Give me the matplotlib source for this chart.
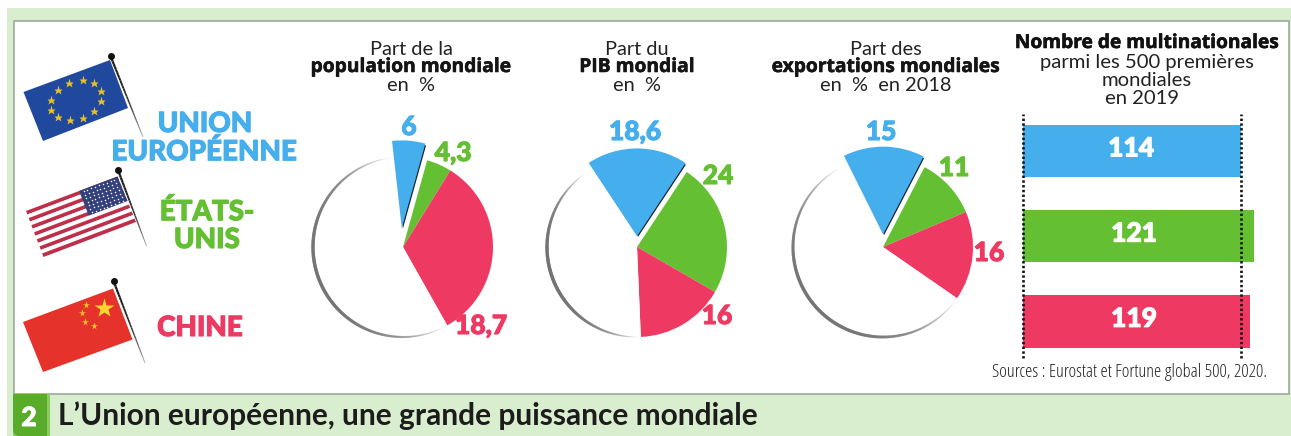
import numpy as np
import matplotlib
matplotlib.use("Agg")
import matplotlib.pyplot as plt
import matplotlib.patheffects as pe
from matplotlib.patches import Polygon, Rectangle, FancyBboxPatch, Wedge
from matplotlib.collections import LineCollection

W, H = 1291, 436
plt.rcParams["font.family"] = ["Lato", "DejaVu Sans"]

BLUE, GREEN, RED = "#45AEEC", "#64C032", "#EE3A62"
PALE = "#D9EDCF"

# Data
population_labels = ["6", "4,3", "18,7"]
population_drawn = [6.1, 4.5, 33.0, 56.4]
pib_labels = ["18,6", "24", "16"]
pib_drawn = [18.6, 24, 16, 41.4]
export_labels = ["15", "11", "16"]
export_drawn = [15, 11, 16, 58]
bar_names = ["Union européenne", "États-Unis", "Chine"]
bar_values = [114, 121, 119]


def heavy(color, w=0.7):
    return [pe.withStroke(linewidth=w, foreground=color)]


fig = plt.figure(figsize=(W / 100, H / 100), dpi=100, facecolor="white")
ax = fig.add_axes([0, 0, 1, 1], zorder=0)
ax.set_xlim(0, W)
ax.set_ylim(H, 0)
ax.axis("off")

# Frame
ax.add_patch(Rectangle((7, 8), 1284, 428, fc=PALE, ec="none"))
ax.add_patch(Rectangle((14, 21.5), 1275, 372, fc="white", ec="#9FA8A0", lw=1.2))
ax.add_patch(Rectangle((13, 394), 37, 42, fc="#8CCB5E", ec="none"))
ax.add_patch(Rectangle((13, 394), 34, 32, fc="#59AB2A", ec="none"))
ax.add_patch(FancyBboxPatch((13, 400), 34, 36, boxstyle="round,pad=0,rounding_size=7", fc="#59AB2A", ec="none"))
ax.add_patch(Rectangle((30, 410), 17, 26, fc="#59AB2A", ec="none"))
ax.text(29, 418, "2", color="white", fontsize=19, fontweight="black", ha="center", va="center",
        path_effects=heavy("white"))
ax.text(58, 416, "L’Union européenne, une grande puissance mondiale", color="#1C1C1C", fontsize=21.5,
        fontweight="bold", ha="left", va="center")


def quad(c, u, v):
    tl, tr, br, bl = [np.array(p, float) for p in c]
    return tuple((1 - v) * ((1 - u) * tl + u * tr) + v * ((1 - u) * bl + u * br))


def flag_poly(c, u0, u1, v0, v1, color, z=2):
    ax.add_patch(Polygon([quad(c, u0, v0), quad(c, u1, v0), quad(c, u1, v1), quad(c, u0, v1)],
                         fc=color, ec="none", zorder=z))


def pole(a, b):
    a, b = np.array(a, float), np.array(b, float)
    ts = np.linspace(0, 1, 31)
    pts = a + np.outer(ts, b - a)
    segs = np.stack([pts[:-1], pts[1:]], axis=1)
    ax.add_collection(LineCollection(segs, colors=[(0.1, 0.1, 0.1, 1 - 0.7 * t ** 3) for t in ts[:-1]],
                                     linewidths=1.7 - 1.1 * ts[:-1], zorder=4))
    ax.plot([a[0]], [a[1]], "o", color="#111111", ms=4, zorder=5)


# EU flag
eu = [(23.5, 92), (110, 60), (128, 108), (43, 141)]
flag_poly(eu, 0, 1, 0, 1, "#20489C")
for t in np.arange(12) * np.pi / 6:
    x, y = quad(eu, 0.5 + 0.29 * np.sin(t), 0.5 - 0.36 * np.cos(t))
    ax.plot([x], [y], "*", color="#E8C02E", ms=6.5, mec="none", zorder=3)
pole((110.5, 56), (143, 137))

# US flag
us = [(26, 211), (117.5, 176.5), (136, 222), (43.5, 257)]
for i in range(13):
    flag_poly(us, 0, 1, i / 13, (i + 1) / 13, "#BF2F4A" if i % 2 == 0 else "white")
flag_poly(us, 0.58, 1, 0, 7 / 13, "#33407E", 3)
for i in range(9):
    for j in range(7):
        x, y = quad(us, 0.6 + 0.38 * (i + 0.5) / 9, (j + 0.5) / 7 * 7 / 13)
        ax.plot([x], [y], ".", color="white", ms=2.2, mec="none", zorder=4)
pole((118, 170), (146.5, 246))

# China flag
cn = [(23, 322), (113, 288.5), (132.5, 339.5), (43, 372)]
flag_poly(cn, 0, 1, 0, 1, "#E5322B")
for (x, y, s) in [(104, 308, 15), (86, 305, 5.5), (82, 313, 5.5), (85, 322, 5.5), (94, 325.5, 5.5)]:
    ax.plot([x], [y], "*", color="#F9D62E", ms=s, mec="none", zorder=3)
pole((113.5, 281), (145, 363))

# Region names
for txt, x, y, c in [("UNION", 205, 124, BLUE), ("EUROPÉENNE", 204, 152, BLUE), ("ÉTATS-", 207, 212, GREEN),
                     ("UNIS", 207, 240, GREEN), ("CHINE", 200, 328, RED)]:
    ax.text(x, y, txt, color=c, fontsize=20, fontweight="black", ha="center", va="center", path_effects=heavy(c, 0.8))


def draw_pie(cx, cy, r, shares, start, explode, nudge=0.0):
    pad = 1.3
    s = r * pad
    a = fig.add_axes([(cx - s) / W, 1 - (cy + s) / H, 2 * s / W, 2 * s / H], zorder=1)
    wedges, _ = a.pie(shares, startangle=90 - start, counterclock=False,
                      colors=[BLUE, GREEN, RED, "white"], explode=[explode, 0, 0, 0], radius=1, frame=True)
    a.set_xlim(-pad, pad)
    a.set_ylim(-pad, pad)
    a.set_aspect("equal")
    a.axis("off")
    bw = wedges[0]
    bw.set_center((bw.center[0] + nudge, bw.center[1]))
    bw.set_radius(0.975)
    shadow = Wedge((bw.center[0] + 0.012, bw.center[1] - 0.006), 0.96, bw.theta1, bw.theta2, fc="#102030", ec="none",
                   zorder=bw.get_zorder() - 0.1)
    a.add_patch(shadow)
    bw.set_zorder(bw.get_zorder() + 0.2)
    rest = wedges[3]
    th = np.radians(np.linspace(rest.theta1 + 1.5, rest.theta2 - 1, 160))
    xy = np.c_[np.cos(th), np.sin(th)]
    segs = np.stack([xy[:-1], xy[1:]], axis=1)
    prof = np.sin(np.linspace(0, np.pi, len(segs))) ** 0.7
    cols = [(0.45, 0.45, 0.45, float(p) * 0.85) for p in prof]
    a.add_collection(LineCollection(segs, colors=cols, linewidths=0.3 + 2.2 * prof, zorder=3, capstyle="round"))
    return a


draw_pie(403, 247, 90, population_drawn, -6.4, 0.21, -0.03)
draw_pie(637, 247, 90, pib_drawn, -33.4, 0.12)
draw_pie(883, 247, 90, export_drawn, -26.5, 0.14)

TITLE = "#222222"
BOLD = ["Open Sans", "DejaVu Sans"]
for x, lines in [(411, ["Part de la", "population mondiale", "en  %"]),
                 (637, ["Part du", "PIB mondial", "en  %"]),
                 (886, ["Part des", "exportations mondiales", "en  %  en 2018"])]:
    for i, (ln, y) in enumerate(zip(lines, [49.5, 67, 85.5])):
        if i == 1:
            ax.text(x, y, ln, color="#151515", fontsize=13.85, ha="center", va="center", fontweight="bold",
                    family=BOLD, path_effects=heavy("#151515", 0.4))
        else:
            ax.text(x, y, ln, color=TITLE, fontsize=14.4, ha="center", va="center")

ax.text(1147, 43, "Nombre de multinationales", color="#111111", fontsize=13.8, fontweight="bold", ha="center",
        va="center", family=BOLD, path_effects=heavy("#111111", 0.4))
ax.text(1147, 62.5, "parmi les 500 premières", color=TITLE, fontsize=14.6, ha="center", va="center")
ax.text(1147, 80, "mondiales", color=TITLE, fontsize=14.6, ha="center", va="center")
ax.text(1142, 98.5, "en 2019", color=TITLE, fontsize=14.6, ha="center", va="center")

# Value labels on pies
pos = [(409, 127), (453, 153), (481, 326), (635, 132), (718, 176), (717, 316), (881, 132), (954, 168), (989, 253)]
lab = population_labels + pib_labels + export_labels
for (x, y), t, c in zip(pos, lab, [BLUE, GREEN, RED] * 3):
    ax.text(x, y, t, color=c, fontsize=19, fontweight="black", ha="center", va="center", path_effects=heavy(c, 0.8))

# Bars
PX = 218.1 / 114
x0, x1 = 1022.5, 1272
y0, y1 = 114, 358
b = fig.add_axes([x0 / W, 1 - y1 / H, (x1 - x0) / W, (y1 - y0) / H], zorder=1)
ypos = np.arange(len(bar_values))
b.barh(ypos, bar_values, height=52.5 / 85.2, color=[BLUE, GREEN, RED])
b.set_xlim(0, (x1 - x0) / PX)
b.set_ylim((y1 - 151) / 85.2, (y0 - 151) / 85.2)
b.axis("off")
for xv in (0, bar_values[0]):
    b.axvline(xv, color="#111111", lw=1.9, ls=(0, (0.9, 0.9)), zorder=5, clip_on=False)
for y, v, xc in zip(ypos, bar_values, [1131, 1134, 1134]):
    b.text((xc - x0) / PX, y - 0.03, str(v), color="white", fontsize=19, fontweight="black", ha="center", va="center",
           zorder=6, path_effects=heavy("white", 0.8))

ax.text(1130, 372, "Sources : Eurostat et Fortune global 500, 2020.", color="#222222", fontsize=13.2,
        ha="center", va="center", family="Open Sans", stretch="condensed")

fig.savefig("out.png", dpi=100)
